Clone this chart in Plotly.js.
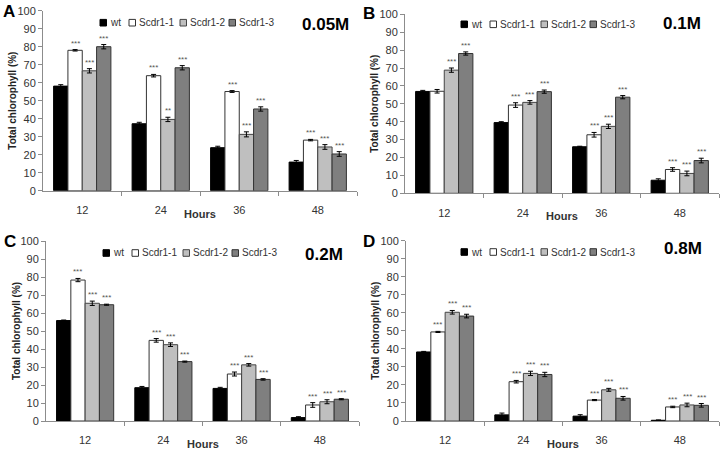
<!DOCTYPE html>
<html>
<head>
<meta charset="utf-8">
<script src="https://cdn.plot.ly/plotly-3.0.1.min.js"></script>
<style>html,body{margin:0;padding:0;background:#fff;}#chart{width:722px;height:450px;}</style>
</head>
<body>
<div id="chart"></div>
<script>
// ---------- data ----------
const hours = ['12', '24', '36', '48'];
const seriesNames = ['wt', 'Scdr1-1', 'Scdr1-2', 'Scdr1-3'];
const panelLetters = ['A', 'B', 'C', 'D'];
const concentrations = ['0.05M', '0.1M', '0.2M', '0.8M'];

// Panel A (0.05M)
const a_wt = [58.1, 37.2, 23.9, 15.9];
const a_s1 = [78.0, 63.9, 55.1, 28.1];
const a_s2 = [66.6, 39.6, 31.3, 24.3];
const a_s3 = [80.0, 68.3, 45.4, 20.4];
const a_wt_err = [0.8, 0.8, 0.8, 0.9];
const a_s1_err = [0.4, 0.7, 0.5, 0.4];
const a_s2_err = [1.2, 1.2, 1.4, 1.3];
const a_s3_err = [1.2, 1.2, 1.2, 1.3];
const a_s1_sig = ['***', '***', '***', '***'];
const a_s2_sig = ['***', '**', '***', '***'];
const a_s3_sig = ['***', '***', '***', '***'];

// Panel B (0.1M)
const b_wt = [56.9, 39.5, 26.0, 7.3];
const b_s1 = [57.0, 49.3, 32.7, 13.3];
const b_s2 = [68.8, 50.8, 37.4, 11.1];
const b_s3 = [78.1, 56.8, 53.7, 18.3];
const b_wt_err = [0.6, 0.5, 0.3, 0.8];
const b_s1_err = [1.0, 1.3, 1.3, 1.0];
const b_s2_err = [1.2, 1.0, 1.2, 1.3];
const b_s3_err = [0.9, 0.9, 0.9, 1.3];
const b_s1_sig = ['', '***', '***', '***'];
const b_s2_sig = ['***', '***', '***', '***'];
const b_s3_sig = ['***', '***', '***', '***'];

// Panel C (0.2M)
const c_wt = [55.8, 18.5, 18.1, 1.9];
const c_s1 = [78.3, 44.8, 26.1, 8.9];
const c_s2 = [65.4, 42.4, 31.2, 10.7];
const c_s3 = [64.6, 33.0, 23.1, 12.1];
const c_wt_err = [0.3, 0.7, 0.6, 0.5];
const c_s1_err = [0.9, 1.0, 1.1, 1.3];
const c_s2_err = [1.2, 1.0, 0.7, 1.1];
const c_s3_err = [0.3, 0.3, 0.4, 0.3];
const c_s1_sig = ['***', '***', '***', '***'];
const c_s2_sig = ['***', '***', '***', '***'];
const c_s3_sig = ['***', '***', '***', '***'];

// Panel D (0.8M)
const d_wt = [38.3, 3.4, 2.7, 0.4];
const d_s1 = [49.4, 21.8, 11.6, 7.8];
const d_s2 = [60.3, 26.4, 17.3, 8.9];
const d_s3 = [58.2, 25.8, 12.6, 8.7];
const d_wt_err = [0.3, 1.0, 0.8, 0.2];
const d_s1_err = [0.3, 0.7, 0.3, 0.4];
const d_s2_err = [1.0, 1.2, 0.8, 1.0];
const d_s3_err = [1.0, 1.2, 1.0, 1.0];
const d_s1_sig = ['***', '***', '***', '***'];
const d_s2_sig = ['***', '***', '***', '***'];
const d_s3_sig = ['***', '***', '***', '***'];

// ---------- styles ----------
const fillColors = ['#000000', '#ffffff', '#bfbfbf', '#7f7f7f'];
const lineColors = ['#000000', '#333333', '#444444', '#333333'];
const font = 'Liberation Sans, Arial, sans-serif';
const bargap = 0.27;

// pixel geometry of each panel (left, right, y of 0, y of 100)
const W = 722, H = 450;
const panels = [
  {vals: [a_wt, a_s1, a_s2, a_s3], errs: [a_wt_err, a_s1_err, a_s2_err, a_s3_err], sigs: [null, a_s1_sig, a_s2_sig, a_s3_sig],
   px: [43, 357], py: [190.7, 10.7], legX: 100, legY: 22.7, letter: [9, 11], conc: [325, 24]},
  {vals: [b_wt, b_s1, b_s2, b_s3], errs: [b_wt_err, b_s1_err, b_s2_err, b_s3_err], sigs: [null, b_s1_sig, b_s2_sig, b_s3_sig],
   px: [405, 719], py: [193.3, 14.3], legX: 461, legY: 24.3, letter: [369, 14], conc: [682, 23]},
  {vals: [c_wt, c_s1, c_s2, c_s3], errs: [c_wt_err, c_s1_err, c_s2_err, c_s3_err], sigs: [null, c_s1_sig, c_s2_sig, c_s3_sig],
   px: [46, 359], py: [421, 241], legX: 103, legY: 253, letter: [10, 241], conc: [324, 254]},
  {vals: [d_wt, d_s1, d_s2, d_s3], errs: [d_wt_err, d_s1_err, d_s2_err, d_s3_err], sigs: [null, d_s1_sig, d_s2_sig, d_s3_sig],
   px: [406, 719], py: [421, 240.7], legX: 461, legY: 252, letter: [369, 241], conc: [683, 248]}
];

const traces = [];
const annotations = [];
const shapes = [];
const layout = {
  width: W, height: H,
  margin: {l: 0, r: 0, t: 0, b: 0},
  paper_bgcolor: '#ffffff', plot_bgcolor: '#ffffff',
  barmode: 'group', bargap: bargap, bargroupgap: 0,
  showlegend: false,
  font: {family: font, size: 11, color: '#333333'}
};

const catIdx = hours.map((h, i) => i);
const legendOffsets = [0, 29, 80, 129];

panels.forEach((p, pi) => {
  const sfx = pi === 0 ? '' : String(pi + 1);
  const xa = 'x' + sfx, ya = 'y' + sfx;
  layout['xaxis' + sfx] = {
    domain: [p.px[0] / W, p.px[1] / W],
    anchor: ya,
    range: [-0.5, 3.5],
    tickmode: 'array', tickvals: catIdx, ticktext: hours,
    ticks: '', showgrid: false, zeroline: false,
    showline: true, linecolor: '#8c8c8c', linewidth: 1,
    tickfont: {family: font, size: 11, color: '#333333'},
    ticklabelstandoff: 9,
    minor: {tickmode: 'array', tickvals: [0.5, 1.5, 2.5, 3.5], ticks: 'outside', ticklen: 4, tickcolor: '#8c8c8c', showgrid: false},
    fixedrange: true
  };
  layout['yaxis' + sfx] = {
    domain: [1 - p.py[0] / H, 1 - p.py[1] / H],
    anchor: xa,
    range: [0, 100], dtick: 10, tick0: 0,
    ticks: 'outside', ticklen: 4, tickcolor: '#8c8c8c',
    showgrid: false, zeroline: false,
    showline: true, linecolor: '#8c8c8c', linewidth: 1,
    tickfont: {family: font, size: 11, color: '#333333'},
    fixedrange: true
  };

  const groupW = 1 - bargap, barW = groupW / 4;
  p.vals.forEach((vals, si) => {
    traces.push({
      type: 'bar', name: seriesNames[si], x: catIdx, y: vals,
      xaxis: xa, yaxis: ya,
      marker: {color: fillColors[si], line: {color: lineColors[si], width: 1}},
      error_y: {type: 'data', array: p.errs[si], visible: true, color: '#000000', thickness: 1, width: 2.5},
      hoverinfo: 'skip'
    });
    if (p.sigs[si]) {
      p.sigs[si].forEach((s, ci) => {
        if (!s) return;
        annotations.push({
          xref: xa, yref: ya,
          x: ci - groupW / 2 + (si + 0.5) * barW,
          y: vals[ci] + p.errs[si][ci],
          text: s, showarrow: false, yanchor: 'bottom', yshift: 0,
          font: {family: font, size: 8, color: '#555555'}
        });
      });
    }
  });

  // axis titles
  annotations.push({
    xref: xa + ' domain', yref: ya + ' domain', x: 0.5, y: 0, yshift: -23,
    text: '<b>Hours</b>', showarrow: false, yanchor: 'middle',
    font: {family: font, size: 11, color: '#333333'}
  });
  annotations.push({
    xref: xa + ' domain', yref: ya + ' domain', x: 0, y: 0.5, xshift: -30,
    text: '<b>Total chlorophyll (%)</b>', showarrow: false, textangle: -90,
    xanchor: 'center', yanchor: 'middle',
    font: {family: font, size: 10, color: '#222222'}
  });

  // panel letter and concentration
  annotations.push({
    xref: 'paper', yref: 'paper', x: p.letter[0] / W, y: 1 - p.letter[1] / H,
    text: '<b>' + panelLetters[pi] + '</b>', showarrow: false, xanchor: 'center', yanchor: 'middle',
    font: {family: font, size: 17, color: '#000000'}
  });
  annotations.push({
    xref: 'paper', yref: 'paper', x: p.conc[0] / W, y: 1 - p.conc[1] / H,
    text: '<b>' + concentrations[pi] + '</b>', showarrow: false, xanchor: 'center', yanchor: 'middle',
    font: {family: font, size: 17, color: '#000000'}
  });

  // legend (drawn as swatches + text)
  seriesNames.forEach((nm, si) => {
    const x0 = p.legX + legendOffsets[si];
    shapes.push({
      type: 'rect', xref: 'paper', yref: 'paper',
      x0: x0 / W, x1: (x0 + 6.5) / W,
      y0: 1 - (p.legY + 3.3) / H, y1: 1 - (p.legY - 3.3) / H,
      fillcolor: fillColors[si], line: {color: lineColors[si], width: 1}
    });
    annotations.push({
      xref: 'paper', yref: 'paper', x: (x0 + 8) / W, y: 1 - p.legY / H,
      text: nm, showarrow: false, xanchor: 'left', yanchor: 'middle',
      font: {family: font, size: 10, color: '#333333'}
    });
  });
});

layout.annotations = annotations;
layout.shapes = shapes;

Plotly.newPlot('chart', traces, layout, {staticPlot: true, displayModeBar: false});
</script>
</body>
</html>
